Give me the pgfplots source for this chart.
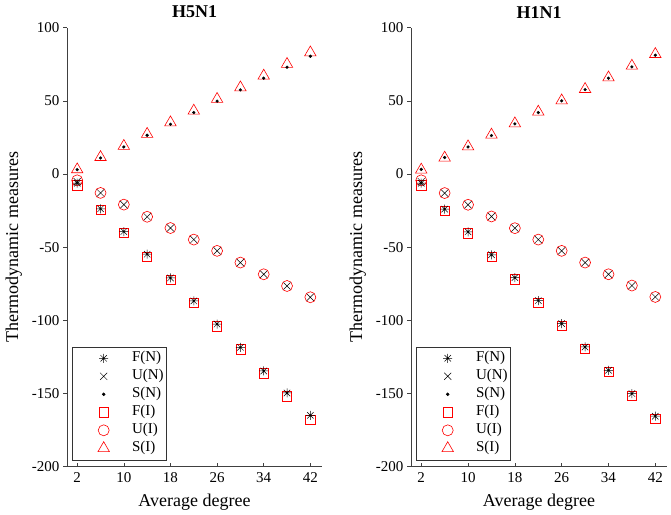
\documentclass[border=0pt]{standalone}
\usepackage{fontspec}
\setmainfont{Liberation Serif}
\usepackage{pgfplots}
\usepackage{pgfplotstable}
\pgfplotsset{compat=1.18}

\pgfdeclareplotmark{mstar}{%
 \pgfpathmoveto{\pgfqpoint{-\pgfplotmarksize}{0pt}}\pgfpathlineto{\pgfqpoint{\pgfplotmarksize}{0pt}}%
 \pgfpathmoveto{\pgfqpoint{0pt}{-\pgfplotmarksize}}\pgfpathlineto{\pgfqpoint{0pt}{\pgfplotmarksize}}%
 \pgfpathmoveto{\pgfqpoint{-0.707\pgfplotmarksize}{-0.707\pgfplotmarksize}}\pgfpathlineto{\pgfqpoint{0.707\pgfplotmarksize}{0.707\pgfplotmarksize}}%
 \pgfpathmoveto{\pgfqpoint{-0.707\pgfplotmarksize}{0.707\pgfplotmarksize}}\pgfpathlineto{\pgfqpoint{0.707\pgfplotmarksize}{-0.707\pgfplotmarksize}}%
 \pgfusepathqstroke}

\pgfplotstableread{
x FN UN SN FI UI SI
2 -6.3 -5.2 3.0 -7.7 -4.3 3.1
6 -23.8 -12.9 11.0 -24.7 -12.9 11.5
10 -39.3 -20.9 18.5 -40.2 -20.9 19.1
14 -54.8 -29.2 26.5 -56.6 -29.2 27.3
18 -71.0 -36.9 34.0 -72.1 -36.9 35.2
22 -86.7 -44.8 42.0 -88.1 -44.8 43.2
26 -102.5 -52.5 49.8 -104.0 -52.5 51.2
30 -118.4 -60.5 57.5 -119.8 -60.5 59.1
34 -134.6 -68.5 65.5 -136.2 -68.5 67.1
38 -149.6 -76.5 73.0 -151.9 -76.5 75.1
42 -164.9 -84.2 80.5 -168.0 -84.2 83.0
}\hfive

\pgfplotstableread{
x FN UN SN FI UI SI
2 -6.3 -5.2 3.2 -7.7 -4.3 2.9
6 -24.0 -13.0 11.3 -25.0 -13.0 11.1
10 -39.5 -21.0 18.5 -40.5 -21.0 18.8
14 -55.2 -29.0 26.3 -56.5 -29.0 26.8
18 -70.8 -37.0 34.3 -72.0 -37.0 34.5
22 -86.5 -44.8 42.0 -88.0 -44.8 42.5
26 -102.2 -52.5 50.0 -103.8 -52.5 50.2
30 -118.2 -60.5 57.7 -119.3 -60.5 58.0
34 -134.1 -68.5 65.5 -135.3 -68.5 65.9
38 -150.0 -76.2 73.2 -151.4 -76.2 73.9
42 -165.5 -84.0 81.2 -167.0 -84.0 81.9
}\hone

\pgfplotsset{
 myax/.style={
  scale only axis, height=439pt,
  anchor=south west,
  xmin=0.25, xmax=44, ymin=-200, ymax=100,
  axis lines*=left,
  axis line style={black!75, line width=0.6pt},
  xtick={2,10,18,26,34,42},
  ytick={-200,-150,-100,-50,0,50,100},
  xtick align=inside, ytick align=outside,
  major tick length=4pt,
  tick style={black!75, line width=0.6pt},
  /pgf/number format/assume math mode=true,
  tick label style={font=\fontsize{15}{15}\selectfont},
  xticklabel style={yshift=-2pt},
  label style={font=\fontsize{18}{18}\selectfont},
  xlabel style={yshift=-5pt},
  ylabel style={yshift=3pt},
  title style={font=\fontsize{18}{18}\selectfont\bfseries, yshift=0pt},
  xlabel={Average degree},
  ylabel={Thermodynamic measures},
  legend style={at={(0.02,0.015)}, anchor=south west, draw=black!80,
    line width=0.6pt, font=\fontsize{15}{15}\selectfont,
    inner xsep=3pt, inner ysep=4pt, row sep=3pt,
    nodes={inner sep=0pt, text height=11pt, text depth=4pt}},
  legend cell align=left,
  legend image code/.code={%
    \path (0pt,0pt) (56pt,0pt);
    \draw[mark repeat=2,mark phase=2] plot coordinates {(0pt,0pt)(28pt,0pt)(54pt,0pt)};},
 },
 fn/.style={only marks, black, mark=mstar, mark size=4.5pt, line width=0.5pt},
 un/.style={only marks, black, mark=x, mark size=5pt, line width=0.5pt},
 sn/.style={only marks, black, mark=*, mark size=1.4pt},
 fi/.style={only marks, red, mark=square, mark size=4.6pt, line width=0.6pt},
 ui/.style={only marks, red, mark=o, mark size=5.5pt, line width=0.6pt},
 si/.style={only marks, red, mark=triangle, mark size=6.6pt, line width=0.6pt},
}

\begin{document}
\begin{tikzpicture}[x=1pt,y=1pt]
\useasboundingbox (0,0) rectangle (671,514);
\begin{axis}[myax, at={(67pt,47.3pt)}, width=255pt, title={H5N1}]
\addplot[fi, forget plot] table[x=x,y=FI] {\hfive};
\addplot[ui, forget plot] table[x=x,y=UI] {\hfive};
\addplot[si, forget plot] table[x=x,y=SI] {\hfive};
\addplot[fn] table[x=x,y=FN] {\hfive}; \addlegendentry{F(N)}
\addplot[un] table[x=x,y=UN] {\hfive}; \addlegendentry{U(N)}
\addplot[sn] table[x=x,y=SN] {\hfive}; \addlegendentry{S(N)}
\addlegendimage{fi} \addlegendentry{F(I)}
\addlegendimage{ui} \addlegendentry{U(I)}
\addlegendimage{si} \addlegendentry{S(I)}
\end{axis}
\begin{axis}[myax, at={(411pt,47.3pt)}, width=256pt, title={H1N1}]
\addplot[fi, forget plot] table[x=x,y=FI] {\hone};
\addplot[ui, forget plot] table[x=x,y=UI] {\hone};
\addplot[si, forget plot] table[x=x,y=SI] {\hone};
\addplot[fn] table[x=x,y=FN] {\hone}; \addlegendentry{F(N)}
\addplot[un] table[x=x,y=UN] {\hone}; \addlegendentry{U(N)}
\addplot[sn] table[x=x,y=SN] {\hone}; \addlegendentry{S(N)}
\addlegendimage{fi} \addlegendentry{F(I)}
\addlegendimage{ui} \addlegendentry{U(I)}
\addlegendimage{si} \addlegendentry{S(I)}
\end{axis}
\end{tikzpicture}
\end{document}
